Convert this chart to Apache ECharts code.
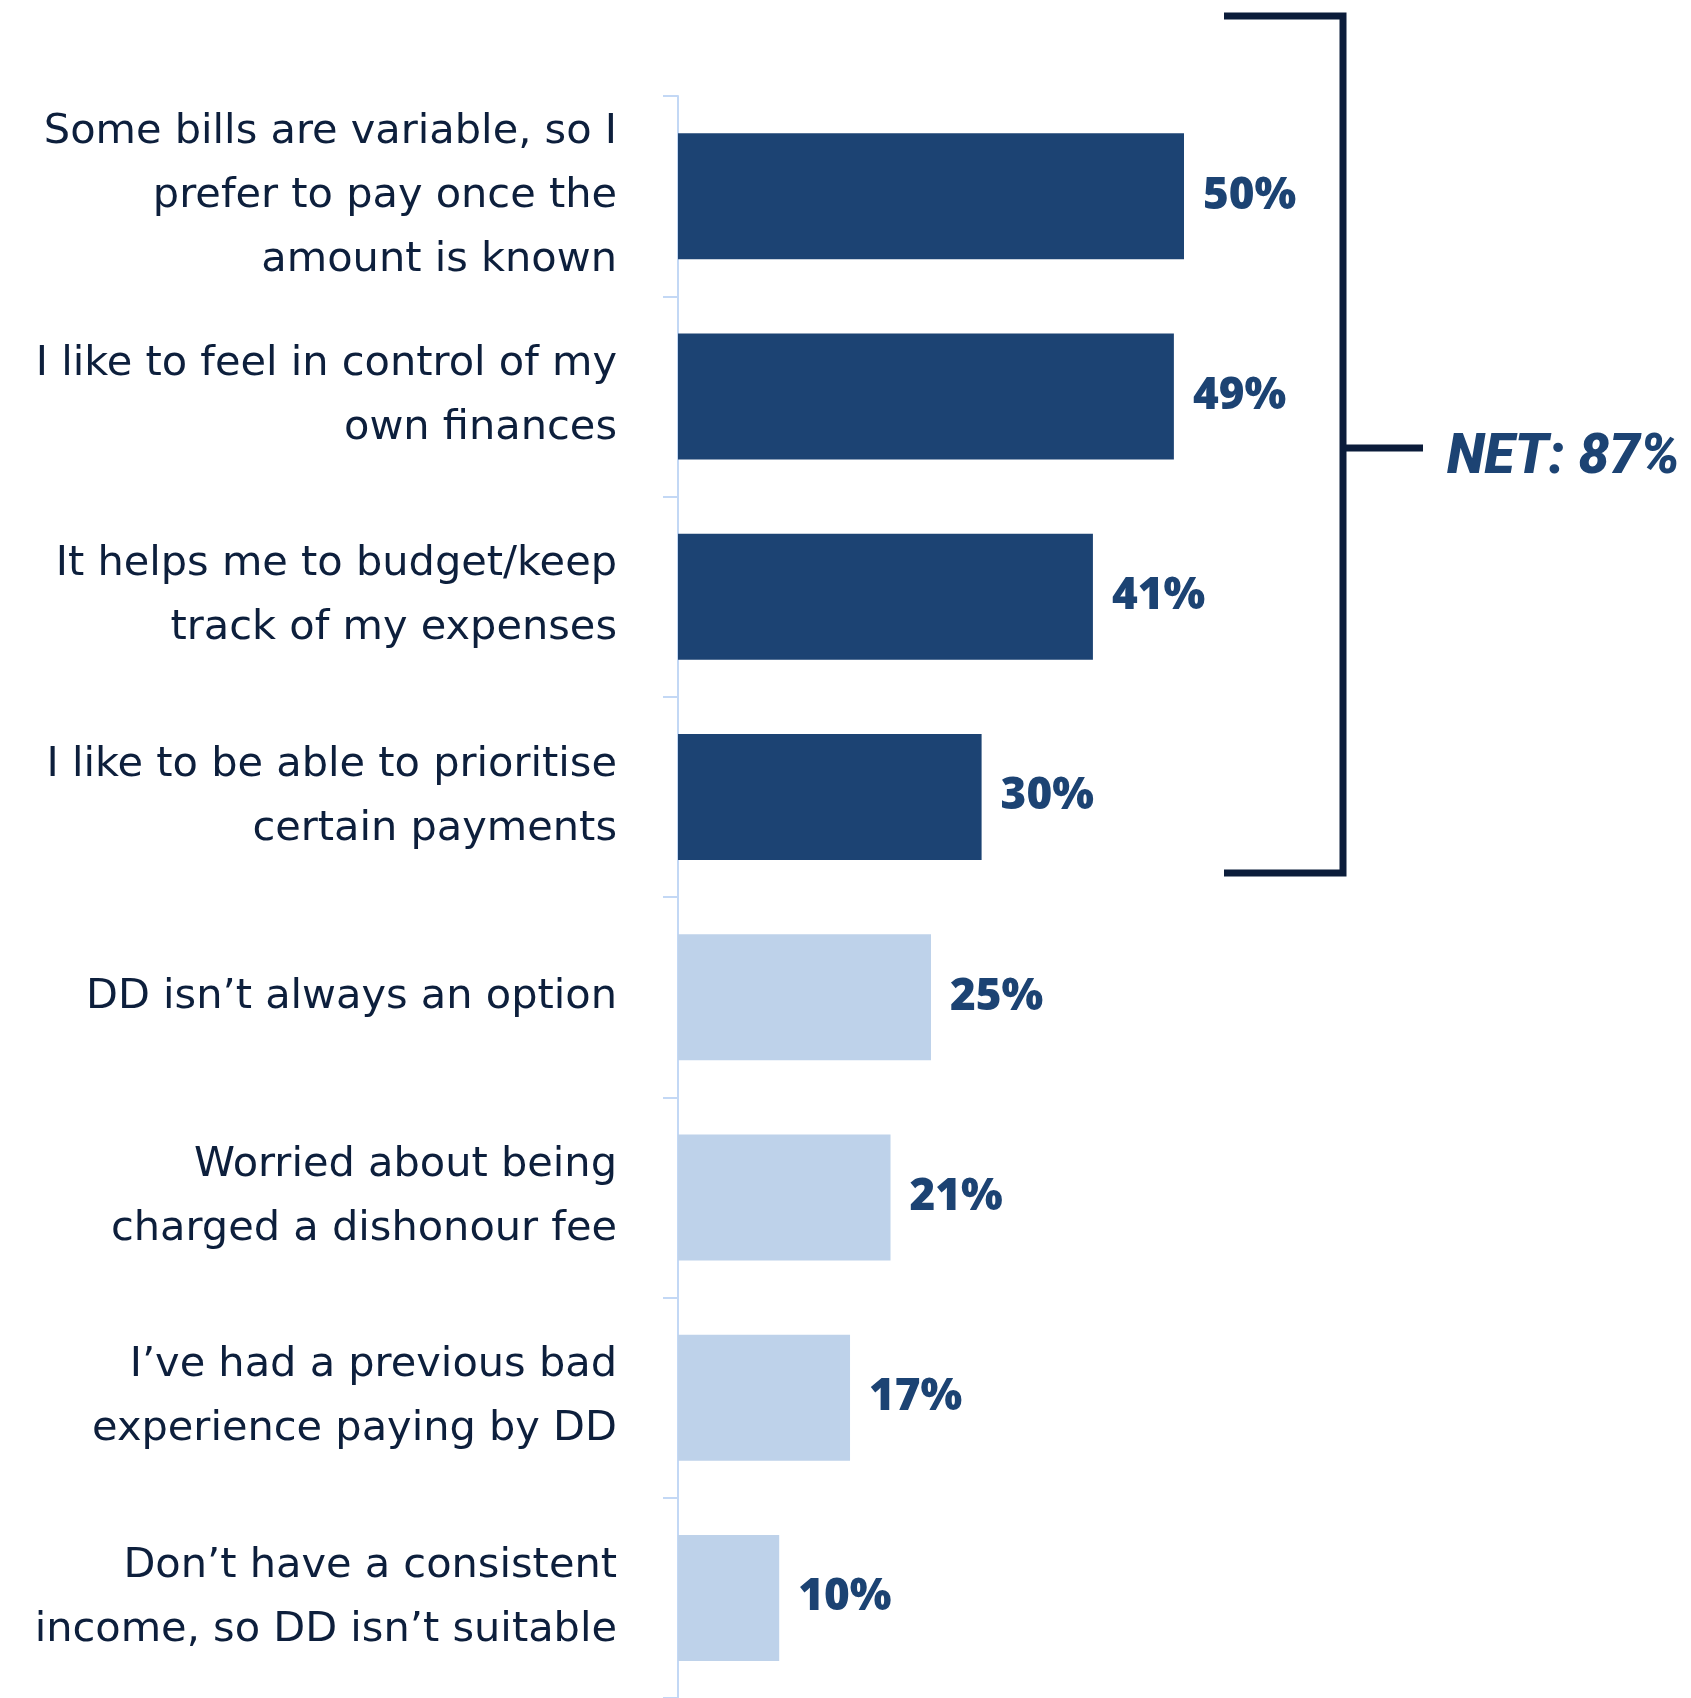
<!DOCTYPE html>
<html>
<head>
<meta charset="utf-8">
<script src="https://cdn.jsdelivr.net/npm/echarts@6/dist/echarts.min.js"></script>
<style>
  html, body { margin: 0; padding: 0; background: #ffffff; }
  #chart { width: 1691px; height: 1698px; }
</style>
</head>
<body>
<div id="chart"></div>
<script>
// Reasons for paying bills manually rather than by Direct Debit (% of respondents)
const categories = [
  'Some bills are variable, so I\nprefer to pay once the\namount is known',
  'I like to feel in control of my\nown finances',
  'It helps me to budget/keep\ntrack of my expenses',
  'I like to be able to prioritise\ncertain payments',
  'DD isn\u2019t always an option',
  'Worried about being\ncharged a dishonour fee',
  'I\u2019ve had a previous bad\nexperience paying by DD',
  'Don\u2019t have a consistent\nincome, so DD isn\u2019t suitable'
];
const values = [50, 49, 41, 30, 25, 21, 17, 10];
// first four reasons are grouped under the NET bracket
const inNet = [true, true, true, true, false, false, false, false];
const netValue = [87];

const DARK = '#1c4373';
const LIGHT = '#bed2ea';
const INK = '#0b1c3a';

const chart = echarts.init(document.getElementById('chart'), null, { renderer: 'canvas' });

const barData = values.map((v, i) => ({
  value: v,
  itemStyle: { color: inNet[i] ? DARK : LIGHT }
}));

chart.setOption({
  animation: false,
  backgroundColor: '#ffffff',
  grid: { left: 678, top: 96, width: 1012, height: 1609, containLabel: false },
  xAxis: {
    type: 'value',
    min: 0,
    max: 100,
    show: false
  },
  yAxis: {
    type: 'category',
    inverse: true,
    data: categories,
    axisLine: { show: true, lineStyle: { color: '#c3d8f5', width: 2 } },
    axisTick: { show: true, length: 15, lineStyle: { color: '#c3d8f5', width: 2 } },
    axisLabel: {
      margin: 61,
      color: '#0d1f3c',
      fontFamily: '"DejaVu Sans", Inter, sans-serif',
      fontSize: 41.5,
      lineHeight: 64,
      align: 'right'
    }
  },
  series: [{
    type: 'bar',
    data: barData,
    barWidth: 126,
    label: {
      show: true,
      position: 'right',
      distance: 19,
      formatter: '{c}%',
      color: DARK,
      fontFamily: '"Open Sans", Roboto, sans-serif',
      fontWeight: 800,
      fontSize: 44
    }
  }],
  graphic: [
    {
      type: 'polyline',
      shape: { points: [[1224, 16], [1343, 16], [1343, 873], [1224, 873]] },
      style: { stroke: INK, lineWidth: 7, fill: null, lineJoin: 'miter' }
    },
    {
      type: 'line',
      shape: { x1: 1343, y1: 448, x2: 1423, y2: 448 },
      style: { stroke: INK, lineWidth: 7 }
    },
    {
      type: 'text',
      x: 1447,
      y: 459,
      style: {
        text: 'NET: ' + netValue[0] + '%',
        fill: DARK,
        font: 'italic 900 55px Roboto, sans-serif',
        textVerticalAlign: 'middle',
        verticalAlign: 'middle'
      }
    }
  ]
});
</script>
</body>
</html>
